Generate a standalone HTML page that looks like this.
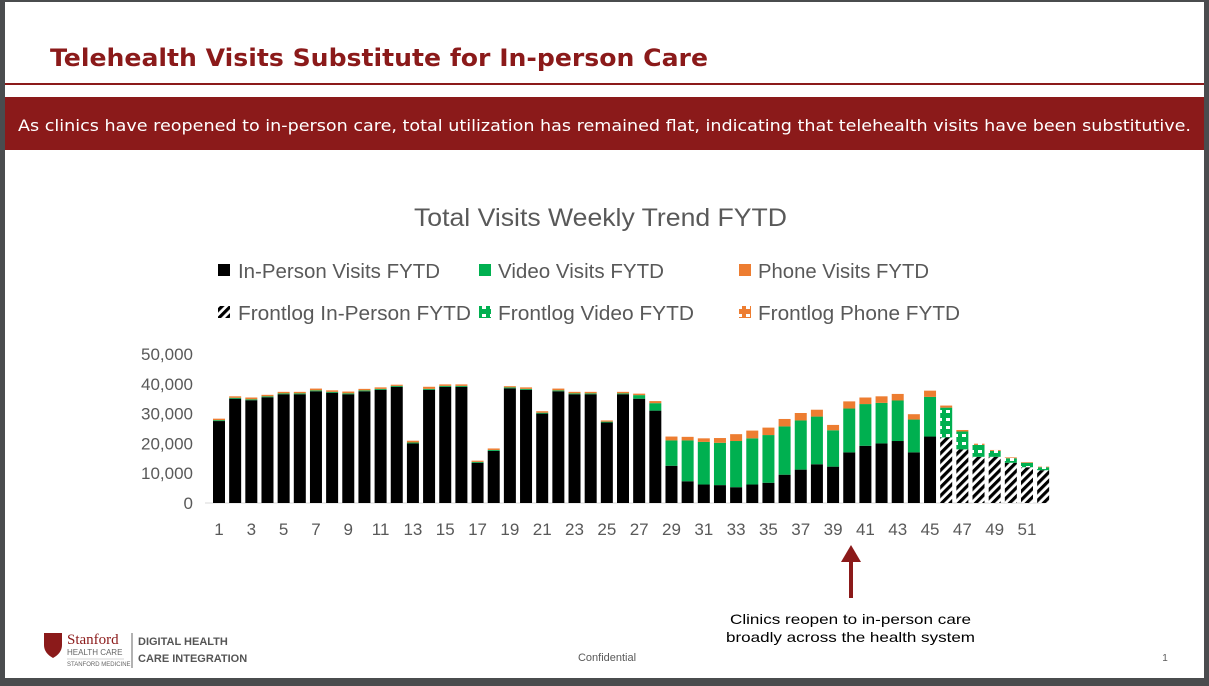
<!DOCTYPE html>
<html><head><meta charset="utf-8"><style>
body{margin:0;width:1209px;height:686px;background:#4a4c4e;position:relative;overflow:hidden;font-family:"Liberation Sans",sans-serif}
#slide{position:absolute;left:5px;top:2px;width:1199px;height:676px;background:#fff}
</style></head><body>
<div id="slide"></div>
<svg width="1209" height="686" style="position:absolute;left:0;top:0">
<defs>
<pattern id="hatch" width="6" height="6" patternUnits="userSpaceOnUse" patternTransform="rotate(45)"><rect width="6" height="6" fill="#fff"/><rect width="3.2" height="6" fill="#000"/></pattern>
<pattern id="vhatch" width="8" height="8" patternUnits="userSpaceOnUse"><rect width="8" height="8" fill="#00b050"/><rect x="2" y="2" width="4" height="3" fill="#fff"/></pattern>
<pattern id="phatch" width="8" height="8" patternUnits="userSpaceOnUse"><rect width="8" height="8" fill="#ed7d31"/><rect x="2" y="2" width="4" height="3" fill="#fff"/></pattern>
</defs>
<text x="50" y="66" font-size="24" font-weight="bold" fill="#8b1a1a" font-family="DejaVu Sans, sans-serif" textLength="658" lengthAdjust="spacingAndGlyphs">Telehealth Visits Substitute for In-person Care</text>
<line x1="5" y1="84" x2="1204" y2="84" stroke="#8b1a1a" stroke-width="2"/>
<rect x="5" y="97" width="1199" height="53" fill="#8b1a1a"/>
<text x="18" y="131" font-size="16" fill="#fff" font-family="DejaVu Sans, sans-serif" textLength="1173" lengthAdjust="spacingAndGlyphs">As clinics have reopened to in-person care, total utilization has remained flat, indicating that telehealth visits have been substitutive.</text>
<text x="414" y="226" font-size="25" fill="#595959" textLength="373" lengthAdjust="spacingAndGlyphs">Total Visits Weekly Trend FYTD</text>
<g font-size="20" fill="#595959">
<rect x="218" y="264" width="12" height="12" fill="#000"/><text x="238" y="278" textLength="202" lengthAdjust="spacingAndGlyphs">In-Person Visits FYTD</text>
<rect x="479" y="264" width="12" height="12" fill="#00b050"/><text x="498" y="278" textLength="166" lengthAdjust="spacingAndGlyphs">Video Visits FYTD</text>
<rect x="739" y="264" width="12" height="12" fill="#ed7d31"/><text x="758" y="278" textLength="171" lengthAdjust="spacingAndGlyphs">Phone Visits FYTD</text>
<rect x="218" y="306" width="12" height="12" fill="url(#hatch)"/><text x="238" y="320" textLength="233" lengthAdjust="spacingAndGlyphs">Frontlog In-Person FYTD</text>
<rect x="479" y="306" width="12" height="12" fill="url(#vhatch)"/><text x="498" y="320" textLength="196" lengthAdjust="spacingAndGlyphs">Frontlog Video FYTD</text>
<rect x="739" y="306" width="12" height="12" fill="url(#phatch)"/><text x="758" y="320" textLength="202" lengthAdjust="spacingAndGlyphs">Frontlog Phone FYTD</text>
</g>
<g id="axes"></g>
<g id="bars"></g>
<line x1="851" y1="598" x2="851" y2="560" stroke="#8b1a1a" stroke-width="4"/>
<polygon points="841,562 861,562 851,545" fill="#8b1a1a"/>
<text x="730" y="624" font-size="14" fill="#000" textLength="241" lengthAdjust="spacingAndGlyphs">Clinics reopen to in-person care</text>
<text x="726" y="642" font-size="14" fill="#000" textLength="249" lengthAdjust="spacingAndGlyphs">broadly across the health system</text>
<text x="607" y="661" font-size="11" fill="#595959" text-anchor="middle">Confidential</text>
<text x="1165" y="661" font-size="10" fill="#595959" text-anchor="middle">1</text>
<g>
<path d="M44 633 h18 v12 q0 8 -9 13 q-9 -5 -9 -13z" fill="#8b1a1a"/>
<text x="67" y="644" font-size="15" fill="#8b1a1a" font-family="Liberation Serif">Stanford</text>
<text x="67" y="655" font-size="8" fill="#666">HEALTH CARE</text>
<line x1="67" y1="659" x2="124" y2="659" stroke="#aaa" stroke-width="0.6"/>
<text x="67" y="666" font-size="6" fill="#666">STANFORD MEDICINE</text>
<line x1="132" y1="633" x2="132" y2="668" stroke="#666"/>
<text x="138" y="645" font-size="11" fill="#555" font-weight="bold">DIGITAL HEALTH</text>
<text x="138" y="662" font-size="11" fill="#555" font-weight="bold">CARE INTEGRATION</text>
</g>
</svg>
<script>
const inPerson=[27.5,35,34.5,35.5,36.5,36.5,37.5,37,36.5,37.5,38,39,20,38,39,39,13.5,17.5,38.5,38,30,37.5,36.5,36.5,27,36.5,35,31,12.5,7.3,6.2,6,5.3,6.2,6.8,9.5,11.2,13,12.2,17,19.2,20,20.8,17,22.3,0,0,0,0,0,0,0];
const video=[0.3,0.3,0.3,0.3,0.3,0.3,0.3,0.3,0.3,0.3,0.3,0.3,0.3,0.3,0.3,0.3,0.3,0.3,0.3,0.3,0.3,0.3,0.3,0.3,0.3,0.3,1.2,2.5,8.5,13.7,14.3,14.2,15.5,15.5,16,16.2,16.5,16,12.2,14.7,14,13.6,13.6,11,13.3,0,0,0,0,0,0,0];
const phone=[0.5,0.5,0.6,0.5,0.5,0.5,0.6,0.5,0.6,0.5,0.5,0.4,0.6,0.7,0.5,0.5,0.4,0.5,0.4,0.5,0.5,0.6,0.5,0.5,0.4,0.5,0.5,0.7,1.3,1.2,1.2,1.6,2.3,2.6,2.5,2.5,2.5,2.3,1.8,2.4,2.2,2.2,2.2,1.8,2.1,0,0,0,0,0,0,0];
const frontInPerson=[0,0,0,0,0,0,0,0,0,0,0,0,0,0,0,0,0,0,0,0,0,0,0,0,0,0,0,0,0,0,0,0,0,0,0,0,0,0,0,0,0,0,0,0,0,22,18,15.5,15.5,13.5,12,11];
const frontVideo=[0,0,0,0,0,0,0,0,0,0,0,0,0,0,0,0,0,0,0,0,0,0,0,0,0,0,0,0,0,0,0,0,0,0,0,0,0,0,0,0,0,0,0,0,0,10,6,4,2,1.5,1.5,1];
const frontPhone=[0,0,0,0,0,0,0,0,0,0,0,0,0,0,0,0,0,0,0,0,0,0,0,0,0,0,0,0,0,0,0,0,0,0,0,0,0,0,0,0,0,0,0,0,0,0.7,0.5,0.4,0.3,0.3,0.2,0.2];
const yTicks=[0,10000,20000,30000,40000,50000];
const NS='http://www.w3.org/2000/svg';
const y0=503,y1=354,x1c=219,step=16.16,bw=12;
const yS=v=>y0-(v/50)*(y0-y1);
const xS=i=>x1c+i*step;
const ax=document.getElementById('axes'),bars=document.getElementById('bars');
yTicks.forEach(t=>{const e=document.createElementNS(NS,'text');
e.setAttribute('x',193);e.setAttribute('y',yS(t/1000)+6);e.setAttribute('text-anchor','end');e.setAttribute('font-size','17');e.setAttribute('fill','#595959');


e.textContent=t.toLocaleString('en-US');ax.appendChild(e);});
const base=document.createElementNS(NS,'line');
base.setAttribute('x1',205);base.setAttribute('x2',1045);base.setAttribute('y1',y0);base.setAttribute('y2',y0);base.setAttribute('stroke','#d9d9d9');


ax.appendChild(base);
for(let i=0;i<52;i+=2){const e=document.createElementNS(NS,'text');
e.setAttribute('x',xS(i));e.setAttribute('y',535);e.setAttribute('text-anchor','middle');e.setAttribute('font-size','17');e.setAttribute('fill','#595959');


e.textContent=i+1;ax.appendChild(e);}
const series=[[inPerson,'#000'],[video,'#00b050'],[phone,'#ed7d31'],[frontInPerson,'url(#hatch)'],[frontVideo,'url(#vhatch)'],[frontPhone,'url(#phatch)']];
for(let i=0;i<52;i++){let acc=0;
series.forEach(([arr,fill],k)=>{const v=arr[i];if(!v)return;
const r=document.createElementNS(NS,'rect');
r.setAttribute('x',xS(i)-bw/2);r.setAttribute('width',bw);
r.setAttribute('y',yS(acc+v));r.setAttribute('height',yS(acc)-yS(acc+v));r.setAttribute('fill',fill);


bars.appendChild(r);acc+=v;});}
</script>
</body></html>
